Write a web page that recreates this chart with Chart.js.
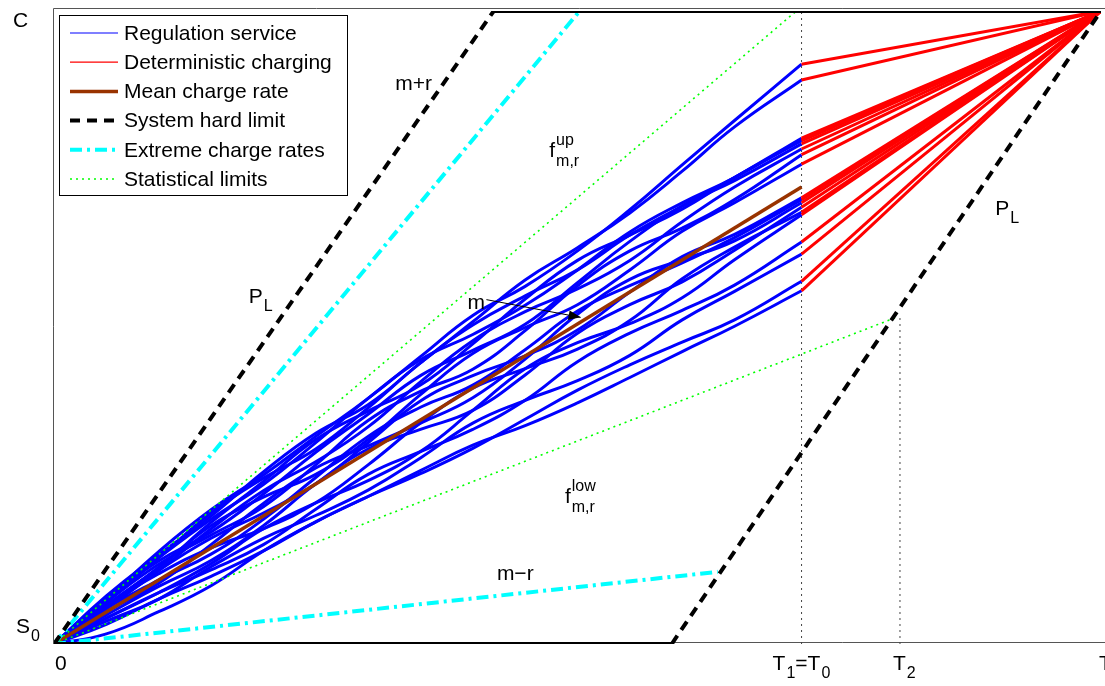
<!DOCTYPE html>
<html>
<head>
<meta charset="utf-8">
<script src="https://cdn.jsdelivr.net/npm/chart.js@4.4.1/dist/chart.umd.min.js"></script>
<style>
  html, body { margin: 0; padding: 0; background: #fff; }
</style>
</head>
<body>
<canvas id="chart" width="1105" height="686"></canvas>
<script>
// time grid for the regulation runs (0 .. T1)
const xGrid = [0, 0.05, 0.1, 0.15, 0.2, 0.25, 0.3, 0.35, 0.4, 0.45, 0.5, 0.55, 0.6, 0.65, 0.714];

// regulation service trajectories (state of charge, 0 = S0, 1 = C)
const r01 = [0, 0.071, 0.146, 0.212, 0.267, 0.328, 0.388, 0.454, 0.519, 0.565, 0.621, 0.686, 0.757, 0.827, 0.916];
const r02 = [0, 0.076, 0.141, 0.202, 0.272, 0.333, 0.378, 0.444, 0.509, 0.575, 0.626, 0.681, 0.747, 0.817, 0.891];
const r03 = [0, 0.066, 0.136, 0.207, 0.262, 0.308, 0.373, 0.444, 0.504, 0.550, 0.591, 0.646, 0.692, 0.737, 0.799];
const r04 = [0, 0.061, 0.121, 0.192, 0.257, 0.323, 0.368, 0.409, 0.474, 0.545, 0.606, 0.646, 0.687, 0.737, 0.795];
const r05 = [0, 0.071, 0.131, 0.177, 0.237, 0.303, 0.363, 0.424, 0.464, 0.505, 0.571, 0.636, 0.692, 0.732, 0.790];
const r06 = [0, 0.056, 0.116, 0.182, 0.242, 0.288, 0.343, 0.414, 0.479, 0.525, 0.561, 0.606, 0.667, 0.722, 0.782];
const r07 = [0, 0.066, 0.126, 0.172, 0.217, 0.283, 0.353, 0.399, 0.434, 0.495, 0.566, 0.621, 0.657, 0.702, 0.773];
const r08 = [0, 0.061, 0.121, 0.187, 0.232, 0.268, 0.323, 0.394, 0.459, 0.500, 0.536, 0.591, 0.652, 0.697, 0.758];
const r09 = [0, 0.056, 0.116, 0.167, 0.207, 0.253, 0.318, 0.384, 0.424, 0.455, 0.496, 0.556, 0.612, 0.647, 0.705];
const r10 = [0, 0.051, 0.096, 0.157, 0.222, 0.278, 0.313, 0.349, 0.389, 0.450, 0.521, 0.576, 0.607, 0.637, 0.697];
const r11 = [0, 0.046, 0.091, 0.132, 0.187, 0.253, 0.308, 0.339, 0.369, 0.425, 0.491, 0.536, 0.572, 0.622, 0.690];
const r12 = [0, 0.061, 0.111, 0.152, 0.182, 0.223, 0.283, 0.349, 0.404, 0.435, 0.466, 0.511, 0.577, 0.627, 0.682];
const r13 = [0, 0.041, 0.081, 0.127, 0.182, 0.223, 0.258, 0.304, 0.369, 0.435, 0.476, 0.506, 0.547, 0.607, 0.678];
const r14 = [0, 0.041, 0.081, 0.117, 0.157, 0.213, 0.268, 0.304, 0.339, 0.385, 0.446, 0.491, 0.527, 0.567, 0.635];
const r15 = [0, 0.036, 0.071, 0.122, 0.167, 0.203, 0.243, 0.294, 0.349, 0.385, 0.416, 0.456, 0.512, 0.557, 0.616];
const r16 = [0, 0.031, 0.071, 0.107, 0.147, 0.193, 0.233, 0.269, 0.309, 0.355, 0.401, 0.441, 0.477, 0.512, 0.573];
const r17 = [0, 0.016, 0.051, 0.092, 0.147, 0.193, 0.233, 0.274, 0.314, 0.345, 0.381, 0.421, 0.462, 0.502, 0.558];
const r18 = [0, 0.071, 0.136, 0.197, 0.252, 0.318, 0.388, 0.449, 0.489, 0.535, 0.591, 0.651, 0.697, 0.737, 0.797];
const r19 = [0, 0.056, 0.101, 0.142, 0.197, 0.263, 0.328, 0.374, 0.409, 0.465, 0.526, 0.566, 0.602, 0.642, 0.702];
const runs = [r01, r02, r03, r04, r05, r06, r07, r08, r09, r10, r11, r12, r13, r14, r15, r16, r17, r18, r19];

// key times on the x axis
const T1 = 0.714;
const T2 = 0.808;
const tickLabels = ['0', 'T1=T0', 'T2', 'T'];

// mean charge rate: straight line from S0 to this value at T1
const meanX = [0, 0.714];
const meanY = [0, 0.722];

// boundary lines (x, y pairs)
const hardUpX = [0, 0.42, 1];
const hardUpY = [0, 1, 1];
const hardLowX = [0, 0.59, 1];
const hardLowY = [0, 0, 1];
const extremeUpX = [0, 0.502];
const extremeUpY = [0, 1];
const extremeLowX = [0, 0.634];
const extremeLowY = [0, 0.114];
const statUpX = [0, 0.709];
const statUpY = [0, 1];
const statLowX = [0, 0.806];
const statLowY = [0, 0.517];

function pts(xs, ys) {
  return xs.map((x, i) => ({ x: x, y: ys[i] }));
}

const BLUE = '#0000ff', RED = '#ff0000', BROWN = '#993300', CYAN = '#00ffff', GREEN = '#00ff00';
const HARD_DASH = [10, 7];
const EXT_DASH = [12, 5, 3, 5];
const STAT_DASH = [2, 4];

const datasets = [];

// hard limits: dashed on the slopes, solid along S0 and C
[[hardUpX, hardUpY], [hardLowX, hardLowY]].forEach(([xs, ys]) => {
  datasets.push({
    data: pts(xs, ys), borderColor: '#000', borderWidth: 4, borderDash: HARD_DASH,
    segment: { borderDash: ctx => (ctx.p0.parsed.y === ctx.p1.parsed.y ? [] : HARD_DASH) },
    pointRadius: 0, order: 1
  });
});
[[extremeUpX, extremeUpY], [extremeLowX, extremeLowY]].forEach(([xs, ys]) => {
  datasets.push({ data: pts(xs, ys), borderColor: CYAN, borderWidth: 4, borderDash: EXT_DASH, pointRadius: 0, order: 2 });
});
[[statUpX, statUpY], [statLowX, statLowY]].forEach(([xs, ys]) => {
  datasets.push({ data: pts(xs, ys), borderColor: GREEN, borderWidth: 1.6, borderDash: STAT_DASH, pointRadius: 0, order: 3 });
});
datasets.push({ data: pts(meanX, meanY), borderColor: BROWN, borderWidth: 3.5, pointRadius: 0, order: 4 });

runs.forEach(run => {
  datasets.push({
    data: pts([T1, 1], [run[run.length - 1], 1]),
    borderColor: RED, borderWidth: 3, pointRadius: 0, order: 5
  });
  datasets.push({
    data: pts(xGrid, run), borderColor: BLUE, borderWidth: 3, pointRadius: 0,
    tension: 0.45, order: 6
  });
});

// vertical markers at T1 and T2
datasets.push({ data: pts([T1, T1], [0, 1]), borderColor: '#444', borderWidth: 1, borderDash: [2, 4], pointRadius: 0, order: 7 });
datasets.push({ data: pts([T2, T2], [0, statLowY[1]]), borderColor: '#444', borderWidth: 1, borderDash: [2, 4], pointRadius: 0, order: 7 });

const FONT = '"Liberation Sans", Arial, Helvetica, sans-serif';

// draws a base text followed by optional superscript / subscript stacked at the same x
function rich(ctx, x, y, base, sup, sub, size) {
  size = size || 21;
  ctx.font = size + 'px ' + FONT;
  ctx.textBaseline = 'alphabetic';
  ctx.textAlign = 'left';
  ctx.fillText(base, x, y);
  const w = ctx.measureText(base).width;
  ctx.font = Math.round(size * 0.76) + 'px ' + FONT;
  if (sup) ctx.fillText(sup, x + w + 1, y - 12);
  if (sub) ctx.fillText(sub, x + w + 1, y + (sup ? 9 : 8));
  return w;
}

const decorations = {
  id: 'decorations',
  beforeDatasetsDraw(chart) {
    const { ctx, chartArea: a } = chart;
    ctx.save();
    ctx.strokeStyle = '#555';
    ctx.lineWidth = 1;
    ctx.beginPath();
    ctx.moveTo(a.left - 0.5, a.bottom);
    ctx.lineTo(a.left - 0.5, a.top - 2.5);
    ctx.lineTo(chart.width, a.top - 2.5);
    ctx.moveTo(a.left, a.bottom - 1.5);
    ctx.lineTo(chart.width, a.bottom - 1.5);
    ctx.stroke();
    ctx.restore();
  },
  afterDatasetsDraw(chart) {
    const { ctx, chartArea: a } = chart;
    const xs = chart.scales.x, ys = chart.scales.y;
    const px = v => xs.getPixelForValue(v), py = v => ys.getPixelForValue(v);
    ctx.save();
    ctx.fillStyle = '#000';

    // y tick labels
    rich(ctx, 13, py(1) + 16, 'C');
    rich(ctx, 16, py(0) - 11, 'S', null, '0');

    // x tick labels
    rich(ctx, px(0) + 1, a.bottom + 26, tickLabels[0]);
    const x0 = px(T1) - 29;
    const w = rich(ctx, x0, a.bottom + 26, 'T', null, '1');
    ctx.font = '16px ' + FONT;
    const w1 = ctx.measureText('1').width;
    rich(ctx, x0 + w + w1 + 1, a.bottom + 26, '=T', null, '0');
    rich(ctx, px(T2) - 7, a.bottom + 26, 'T', null, '2');
    rich(ctx, px(1) - 2, a.bottom + 26, 'T');

    // annotations
    rich(ctx, px(0.326), py(0.875), 'm+r');
    rich(ctx, px(0.186), py(0.538), 'P', null, 'L');
    rich(ctx, px(0.899), py(0.677), 'P', null, 'L');
    rich(ctx, px(0.473), py(0.769), 'f', 'up', 'm,r');
    rich(ctx, px(0.488), py(0.223), 'f', 'low', 'm,r');
    rich(ctx, px(0.423), py(0.101), 'm\u2212r');
    rich(ctx, px(0.395), py(0.53), 'm');

    // arrow from "m" to the mean line
    const ax0 = px(0.413), ay0 = py(0.544), ax1 = px(0.503), ay1 = py(0.516);
    ctx.strokeStyle = '#000';
    ctx.lineWidth = 1;
    ctx.beginPath();
    ctx.moveTo(ax0, ay0);
    ctx.lineTo(ax1, ay1);
    ctx.stroke();
    const ang = Math.atan2(ay1 - ay0, ax1 - ax0);
    ctx.beginPath();
    ctx.moveTo(ax1, ay1);
    ctx.lineTo(ax1 - 13 * Math.cos(ang - 0.38), ay1 - 13 * Math.sin(ang - 0.38));
    ctx.lineTo(ax1 - 13 * Math.cos(ang + 0.38), ay1 - 13 * Math.sin(ang + 0.38));
    ctx.closePath();
    ctx.fill();

    // legend
    const items = [
      ['Regulation service', BLUE, 1.2, []],
      ['Deterministic charging', RED, 1.2, []],
      ['Mean charge rate', BROWN, 3.5, []],
      ['System hard limit', '#000', 4, HARD_DASH],
      ['Extreme charge rates', CYAN, 4, EXT_DASH],
      ['Statistical limits', GREEN, 1.6, STAT_DASH]
    ];
    const lx = a.left + 5, ly = a.top + 4, lw = 288, lh = 180;
    ctx.fillStyle = '#fff';
    ctx.fillRect(lx, ly, lw, lh);
    ctx.strokeStyle = '#000';
    ctx.lineWidth = 1;
    ctx.strokeRect(lx + 0.5, ly + 0.5, lw, lh);
    items.forEach((it, i) => {
      const yy = ly + 18 + i * 29.2;
      ctx.strokeStyle = it[1];
      ctx.lineWidth = it[2];
      ctx.setLineDash(it[3]);
      ctx.beginPath();
      ctx.moveTo(lx + 11, yy);
      ctx.lineTo(lx + 59, yy);
      ctx.stroke();
      ctx.setLineDash([]);
      ctx.fillStyle = '#000';
      ctx.font = '21px ' + FONT;
      ctx.textBaseline = 'middle';
      ctx.fillText(it[0], lx + 65, yy + 1);
    });
    ctx.restore();
  }
};

new Chart(document.getElementById('chart').getContext('2d'), {
  type: 'line',
  data: { datasets: datasets },
  options: {
    responsive: false,
    animation: false,
    layout: { padding: { left: 54, top: 11, right: 4, bottom: 42 } },
    scales: {
      x: { type: 'linear', min: 0, max: 1, display: false },
      y: { type: 'linear', min: 0, max: 1, display: false }
    },
    plugins: { legend: { display: false }, tooltip: { enabled: false } }
  },
  plugins: [decorations]
});
</script>
</body>
</html>
